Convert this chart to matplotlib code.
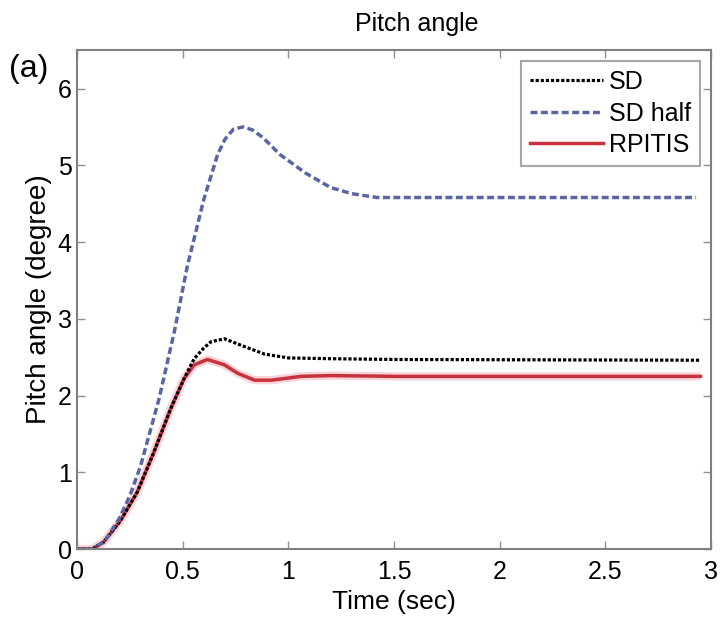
import matplotlib
matplotlib.use("Agg")
import matplotlib.pyplot as plt

plt.rcParams["font.family"] = ["Liberation Sans", "DejaVu Sans"]

# SD half (blue dashed)
t_half = [0, 0.07, 0.13, 0.2, 0.25, 0.30, 0.387, 0.459, 0.522, 0.60, 0.665, 0.70,
          0.74, 0.785, 0.83, 0.88, 0.96, 1.08, 1.2, 1.3, 1.42, 1.6, 2.93]
y_half = [0, 0, 0.1, 0.4, 0.7, 1.08, 1.95, 2.82, 3.69, 4.56, 5.14, 5.34,
          5.47, 5.50, 5.46, 5.36, 5.14, 4.90, 4.71, 4.63, 4.58, 4.58, 4.58]

# SD (black dotted)
t_sd = [0, 0.07, 0.125, 0.205, 0.284, 0.363, 0.443, 0.506, 0.554, 0.6, 0.633,
        0.697, 0.79, 0.887, 1.0, 1.2, 1.5, 2.95]
y_sd = [0, 0, 0.09, 0.37, 0.74, 1.26, 1.83, 2.22, 2.48, 2.62, 2.70,
        2.74, 2.64, 2.54, 2.49, 2.48, 2.47, 2.46]

# RPITIS (red solid)
t_rp = [0, 0.07, 0.125, 0.205, 0.284, 0.363, 0.443, 0.506, 0.554, 0.617, 0.697,
        0.76, 0.84, 0.92, 1.06, 1.2, 1.5, 2.95]
y_rp = [0, 0, 0.09, 0.37, 0.74, 1.26, 1.83, 2.22, 2.40, 2.47, 2.40,
        2.29, 2.20, 2.20, 2.25, 2.26, 2.25, 2.25]

xticks = [0, 0.5, 1, 1.5, 2, 2.5, 3]
xtick_labels = ["0", "0.5", "1", "1.5", "2", "2.5", "3"]
yticks = [0, 1, 2, 3, 4, 5, 6]

fig = plt.figure(figsize=(7.21, 6.19), dpi=100)
ax = fig.add_axes([0.107, 0.113, 0.879, 0.806])

ax.plot(t_rp, y_rp, color="#f5b8c0", lw=6, alpha=0.6, solid_capstyle="butt")
ax.plot(t_rp, y_rp, color="#c8323c", lw=2.5, label="RPITIS")
ax.plot(t_sd, y_sd, color="black", lw=2.3, ls=(0, (1, 0.6)), label="SD")
ax.plot(t_half, y_half, color="#5a66a4", lw=2.5, ls=(0, (2, 1)), label="SD half")

ax.set_xlim(0, 3)
ax.set_ylim(0, 6.5)
ax.set_xticks(xticks)
ax.set_xticklabels(xtick_labels)
ax.set_yticks(yticks)
ax.tick_params(direction="in", top=True, right=True, length=6, width=1,
               color="#909090", labelsize=18, pad=4)
ax.tick_params(axis="x", pad=8)
for s in ax.spines.values():
    s.set_color("#808080")
    s.set_linewidth(1.5)

ax.set_xlabel("Time (sec)", fontsize=19, labelpad=4)
ax.set_ylabel("Pitch angle (degree)", fontsize=20, labelpad=4)

handles, labels = ax.get_legend_handles_labels()
order = [labels.index(n) for n in ["SD", "SD half", "RPITIS"]]
leg = ax.legend([handles[i] for i in order], [labels[i] for i in order],
                loc="upper right", fontsize=18, frameon=True, fancybox=False,
                handlelength=2.9, handletextpad=0.25, borderpad=0.35,
                labelspacing=0.3, borderaxespad=0.45)
leg.get_frame().set_edgecolor("#909090")
leg.get_frame().set_linewidth(1.5)

fig.text(0.578, 0.962, "Pitch angle", fontsize=18, ha="center", va="center")
fig.text(0.012, 0.888, "(a)", fontsize=23, ha="left", va="center")

fig.savefig("out.png", dpi=100)
